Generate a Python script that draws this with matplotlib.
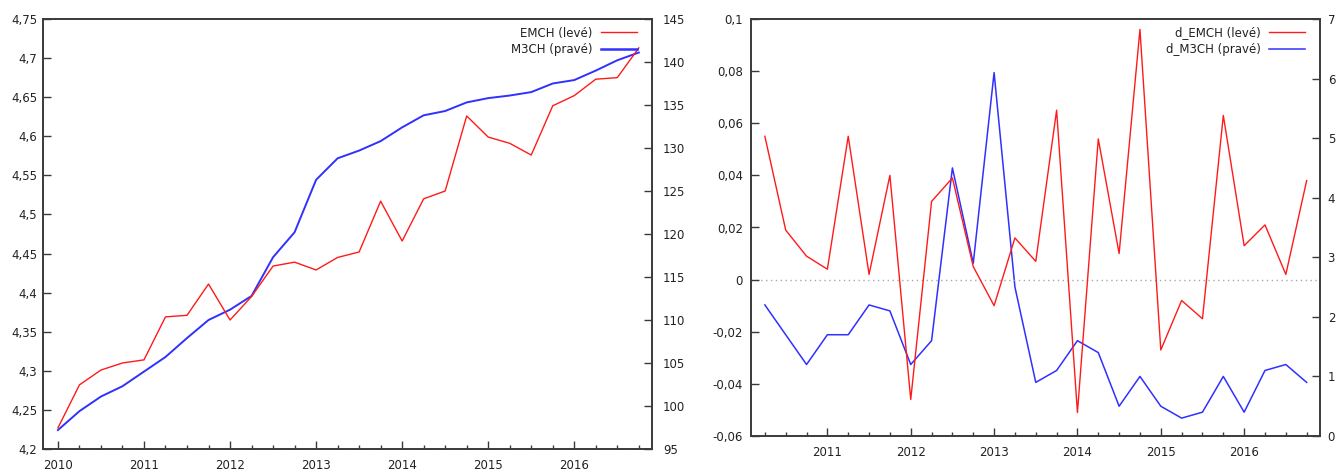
import numpy as np
import matplotlib
matplotlib.use("Agg")
import matplotlib.pyplot as plt
from matplotlib.ticker import FuncFormatter, MultipleLocator
from matplotlib.lines import Line2D

plt.rcParams["font.family"] = ["DejaVu Sans"]
plt.rcParams["font.size"] = 8.5

# Quarterly series, 2010Q1 - 2016Q4
quarters = 2010 + 0.25 * np.arange(28)

emch = [4.227, 4.282, 4.301, 4.310, 4.314, 4.369, 4.371, 4.411,
        4.365, 4.395, 4.434, 4.439, 4.429, 4.445, 4.452, 4.517,
        4.466, 4.520, 4.530, 4.626, 4.599, 4.591, 4.576, 4.639,
        4.652, 4.673, 4.675, 4.713]

m3ch = [97.2, 99.4, 101.1, 102.3, 104.0, 105.7, 107.9, 110.0,
        111.2, 112.8, 117.3, 120.2, 126.3, 128.8, 129.7, 130.8,
        132.4, 133.8, 134.3, 135.3, 135.8, 136.1, 136.5, 137.5,
        137.9, 139.0, 140.2, 141.1]

# First differences (start one quarter later)
d_quarters = quarters[1:]
d_emch = np.diff(emch)
d_m3ch = np.diff(m3ch)

year_ticks_left = [2010, 2011, 2012, 2013, 2014, 2015, 2016]
year_ticks_right = [2011, 2012, 2013, 2014, 2015, 2016]

RED = "#ff1a1a"
BLUE = "#3030ff"
SPINE = "#3a3a3a"
TEXT = "#222222"


def comma(v, pos=None):
    s = f"{round(v, 6) + 0.0:g}"
    return s.replace(".", ",")


W, H = 1338, 472
fig = plt.figure(figsize=(W / 100, H / 100), dpi=100)


def px_axes(x0, y0, x1, y1):
    return fig.add_axes([x0 / W, 1 - y1 / H, (x1 - x0) / W, (y1 - y0) / H])


def style(ax, twin, lpad, rpad, bpad):
    for a in (ax, twin):
        for sp in a.spines.values():
            sp.set_color(SPINE)
            sp.set_linewidth(1.2)
    ax.tick_params(axis="y", direction="in", length=6, width=1, color=SPINE,
                   labelcolor=TEXT, pad=lpad, left=True, right=False)
    twin.tick_params(axis="y", direction="in", length=6, width=1, color=SPINE,
                     labelcolor=TEXT, pad=rpad, right=True, left=False)
    ax.tick_params(axis="x", which="major", direction="in", length=6, width=1,
                   color=SPINE, labelcolor=TEXT, pad=bpad, top=False)
    ax.tick_params(axis="x", which="minor", direction="in", length=3, width=1,
                   color=SPINE, top=False)
    ax.xaxis.set_minor_locator(MultipleLocator(0.25))
    ax.yaxis.set_major_formatter(FuncFormatter(comma))
    twin.yaxis.set_major_formatter(FuncFormatter(comma))


def legend(ax, handles, labels, x_end, y_top):
    ax.legend(handles, labels, loc="upper right",
              bbox_to_anchor=(x_end / W, 1 - y_top / H),
              bbox_transform=fig.transFigure, frameon=False,
              markerfirst=False, handlelength=3.05, handletextpad=0.7,
              borderpad=0, borderaxespad=0, labelspacing=0.32,
              labelcolor=TEXT)


# Left panel: levels
ax1 = px_axes(43.3, 19, 651.7, 449)
ax1b = ax1.twinx()
l1, = ax1.plot(quarters, emch, color=RED, lw=1.0)
l2, = ax1b.plot(quarters, m3ch, color=BLUE, lw=1.4)
ax1.set_xlim(2009.83, 2016.90)
ax1.set_ylim(4.2, 4.75)
ax1.set_yticks(np.arange(4.2, 4.7501, 0.05))
ax1b.set_ylim(95, 145)
ax1b.set_yticks(np.arange(95, 145.1, 5))
ax1.set_xticks(year_ticks_left)
ax1.set_xticklabels([str(y) for y in year_ticks_left])
style(ax1, ax1b, lpad=4.3, rpad=8, bpad=7.5)
ax1b.set_zorder(ax1.get_zorder() - 1)
ax1.patch.set_visible(False)
legend(ax1, [l1, Line2D([], [], color=BLUE, lw=1.8)],
       ["EMCH (levé)", "M3CH (pravé)"], 636.7, 26.5)

# Right panel: first differences
ax2 = px_axes(750.7, 19, 1320, 436)
ax2b = ax2.twinx()
ax2.axhline(0, color="#a8a8a8", lw=1.0, ls=(0, (1, 2.5)), zorder=0)
r1, = ax2.plot(d_quarters, d_emch, color=RED, lw=1.0)
r2, = ax2b.plot(d_quarters, d_m3ch, color=BLUE, lw=1.1)
ax2.set_xlim(2010.08, 2016.91)
ax2.set_ylim(-0.06, 0.1)
ax2.set_yticks(np.arange(-0.06, 0.1001, 0.02))
ax2b.set_ylim(0, 7)
ax2b.set_yticks(np.arange(0, 7.1, 1))
ax2.set_xticks(year_ticks_right)
ax2.set_xticklabels([str(y) for y in year_ticks_right])
style(ax2, ax2b, lpad=5.5, rpad=5.5, bpad=7)
ax2.set_zorder(ax2b.get_zorder() + 1)
ax2.patch.set_visible(False)
legend(ax2, [r1, Line2D([], [], color=BLUE, lw=1.1)],
       ["d_EMCH (levé)", "d_M3CH (pravé)"], 1305, 26.5)

fig.savefig("out.png", dpi=100, facecolor="white")
